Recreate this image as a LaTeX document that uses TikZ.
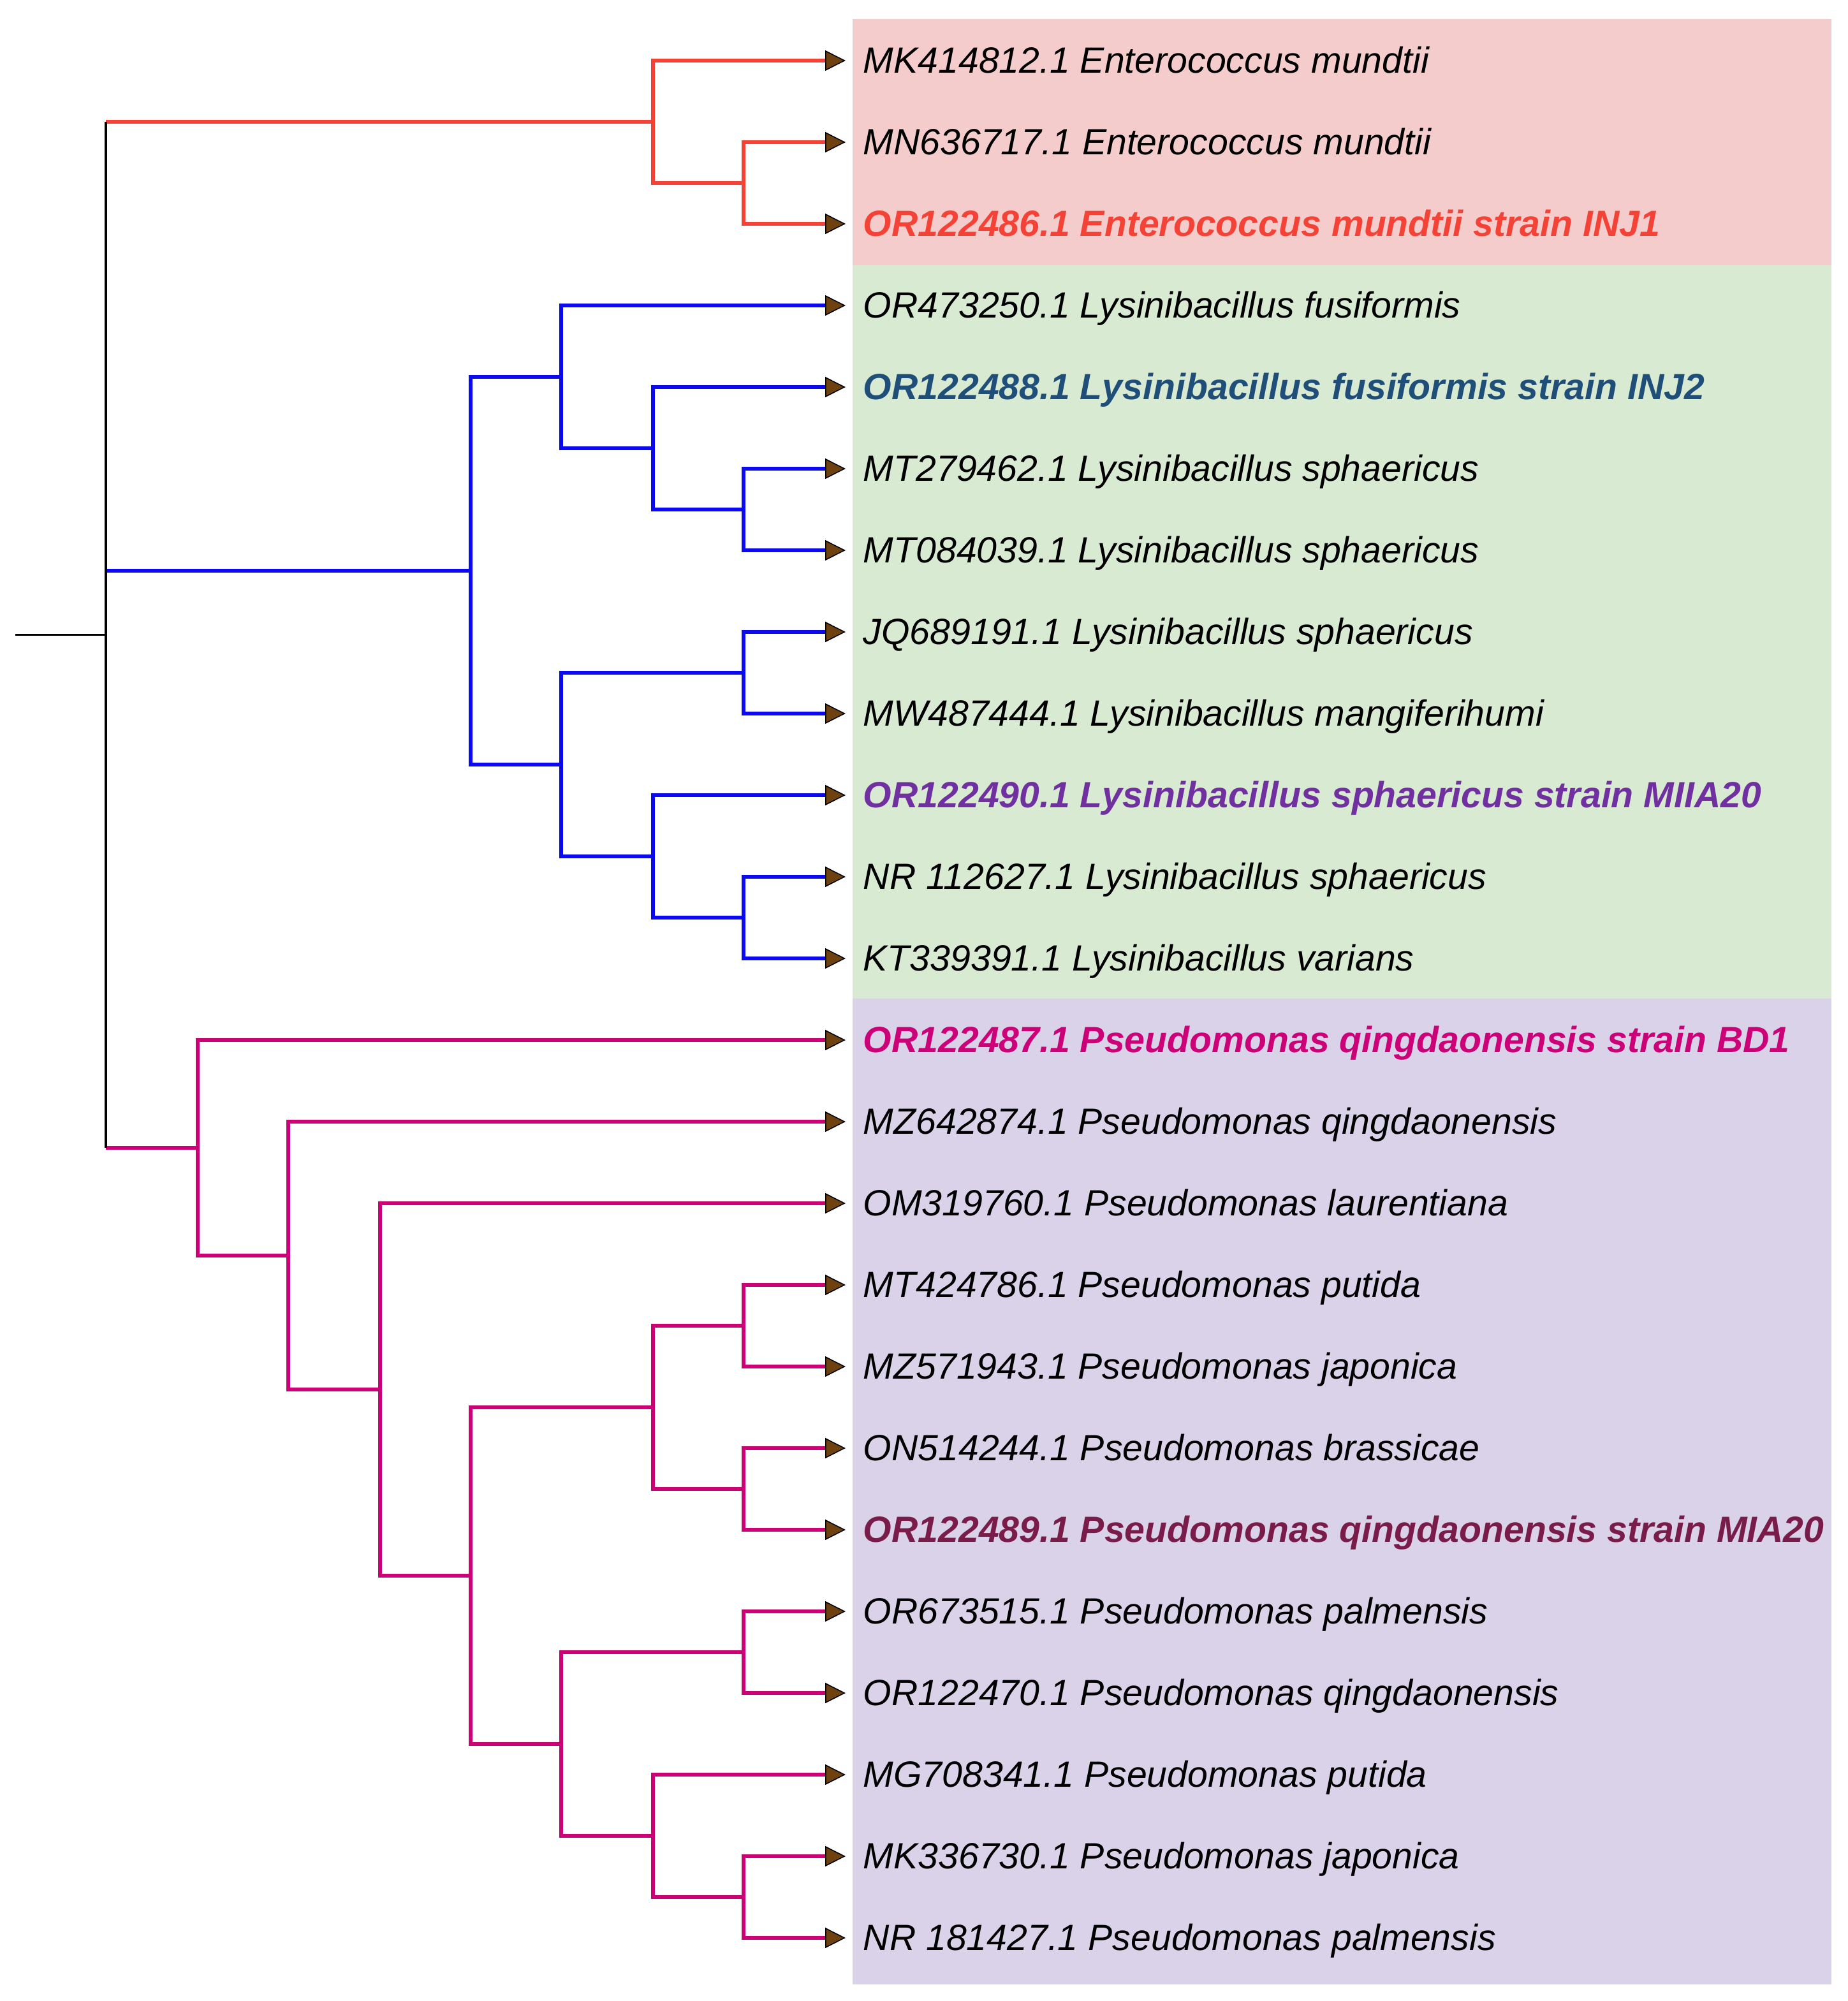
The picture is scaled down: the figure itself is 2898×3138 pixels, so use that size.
\documentclass[tikz,border=0pt]{standalone}
\usepackage{fontspec}
\setmainfont{Liberation Sans}
\usetikzlibrary{arrows.meta}
\definecolor{redbr}{HTML}{F44336}
\definecolor{bluebr}{HTML}{0A0AF0}
\definecolor{pinkbr}{HTML}{CC0077}
\definecolor{redbg}{HTML}{F4CCCC}
\definecolor{greenbg}{HTML}{D9EAD3}
\definecolor{purplebg}{HTML}{D9D2E9}
\definecolor{tipbrown}{HTML}{6E4210}
\definecolor{navytext}{HTML}{1F4E79}
\definecolor{violettext}{HTML}{7030A0}
\definecolor{maroontext}{HTML}{7A1C4A}
\tikzset{
  leafarrow/.style={-{Triangle[length=8pt,width=8pt,fill=tipbrown,color=black,line width=0.4pt]}},
  branch/.style={line width=1.5pt, line join=miter},
  lab/.style={anchor=base west, inner sep=0pt, yshift=-4.75pt,
    font=\fontsize{14.3}{17}\selectfont\itshape},
  hilab/.style={lab, font=\fontsize{14.3}{17}\selectfont\bfseries\itshape}
}
\begin{document}
\begin{tikzpicture}[x=0.25pt, y=-0.25pt]
\useasboundingbox (0,0) rectangle (2898,3138);

% shaded groups
\fill[redbg]    (1337,30)   rectangle (2872,416);
\fill[greenbg]  (1337,416)  rectangle (2872,1566);
\fill[purplebg] (1337,1566) rectangle (2872,3112);

% leaf tips
\coordinate (t1)  at (1326,95);
\coordinate (t2)  at (1326,223);
\coordinate (t3)  at (1326,351);
\coordinate (t4)  at (1326,479);
\coordinate (t5)  at (1326,607);
\coordinate (t6)  at (1326,735);
\coordinate (t7)  at (1326,863);
\coordinate (t8)  at (1326,991);
\coordinate (t9)  at (1326,1119);
\coordinate (t10) at (1326,1247);
\coordinate (t11) at (1326,1375);
\coordinate (t12) at (1326,1503);
\coordinate (t13) at (1326,1631);
\coordinate (t14) at (1326,1759);
\coordinate (t15) at (1326,1887);
\coordinate (t16) at (1326,2015);
\coordinate (t17) at (1326,2143);
\coordinate (t18) at (1326,2271);
\coordinate (t19) at (1326,2399);
\coordinate (t20) at (1326,2527);
\coordinate (t21) at (1326,2655);
\coordinate (t22) at (1326,2783);
\coordinate (t23) at (1326,2911);
\coordinate (t24) at (1326,3039);

% labels
\node[lab] (l1)  at (1353,95)   {MK414812.1 Enterococcus mundtii};
\node[lab] (l2)  at (1353,223)  {MN636717.1 Enterococcus mundtii};
\node[hilab, text=redbr] (l3) at (1353,351) {OR122486.1 Enterococcus mundtii strain INJ1};
\node[lab] (l4)  at (1353,479)  {OR473250.1 Lysinibacillus fusiformis};
\node[hilab, text=navytext] (l5) at (1353,607) {OR122488.1 Lysinibacillus fusiformis strain INJ2};
\node[lab] (l6)  at (1353,735)  {MT279462.1 Lysinibacillus sphaericus};
\node[lab] (l7)  at (1353,863)  {MT084039.1 Lysinibacillus sphaericus};
\node[lab] (l8)  at (1353,991)  {JQ689191.1 Lysinibacillus sphaericus};
\node[lab] (l9)  at (1353,1119) {MW487444.1 Lysinibacillus mangiferihumi};
\node[hilab, text=violettext] (l10) at (1353,1247) {OR122490.1 Lysinibacillus sphaericus strain MIIA20};
\node[lab] (l11) at (1353,1375) {NR 112627.1 Lysinibacillus sphaericus};
\node[lab] (l12) at (1353,1503) {KT339391.1 Lysinibacillus varians};
\node[hilab, text=pinkbr] (l13) at (1353,1631) {OR122487.1 Pseudomonas qingdaonensis strain BD1};
\node[lab] (l14) at (1353,1759) {MZ642874.1 Pseudomonas qingdaonensis};
\node[lab] (l15) at (1353,1887) {OM319760.1 Pseudomonas laurentiana};
\node[lab] (l16) at (1353,2015) {MT424786.1 Pseudomonas putida};
\node[lab] (l17) at (1353,2143) {MZ571943.1 Pseudomonas japonica};
\node[lab] (l18) at (1353,2271) {ON514244.1 Pseudomonas brassicae};
\node[hilab, text=maroontext] (l19) at (1353,2399) {OR122489.1 Pseudomonas qingdaonensis strain MIA20};
\node[lab] (l20) at (1353,2527) {OR673515.1 Pseudomonas palmensis};
\node[lab] (l21) at (1353,2655) {OR122470.1 Pseudomonas qingdaonensis};
\node[lab] (l22) at (1353,2783) {MG708341.1 Pseudomonas putida};
\node[lab] (l23) at (1353,2911) {MK336730.1 Pseudomonas japonica};
\node[lab] (l24) at (1353,3039) {NR 181427.1 Pseudomonas palmensis};

% inner nodes
\coordinate (base) at (24,995.5);
\coordinate (root) at (166,995.5);
\coordinate (r1) at (1024,191);
\coordinate (r2) at (1166,287);
\coordinate (b1) at (738,895);
\coordinate (b2) at (880,591);
\coordinate (b3) at (1024,703);
\coordinate (b4) at (1166,799);
\coordinate (b5) at (880,1199);
\coordinate (b6) at (1166,1055);
\coordinate (b7) at (1024,1343);
\coordinate (b8) at (1166,1439);
\coordinate (p3) at (310,1800);
\coordinate (p4) at (452,1969);
\coordinate (p5) at (596,2179);
\coordinate (p6) at (738,2471);
\coordinate (p7) at (1024,2207);
\coordinate (p8) at (1166,2079);
\coordinate (p9) at (1166,2335);
\coordinate (p10) at (880,2735);
\coordinate (p11) at (1166,2591);
\coordinate (p12) at (1024,2879);
\coordinate (p13) at (1166,2975);

% Enterococcus
\draw[branch, redbr] (root |- r1) -- (r1);
\draw[branch, redbr, leafarrow] (r1) |- (t1);
\draw[branch, redbr] (r1) |- (r2);
\draw[branch, redbr, leafarrow] (r2) |- (t2);
\draw[branch, redbr, leafarrow] (r2) |- (t3);

% Lysinibacillus
\draw[branch, bluebr] (root |- b1) -- (b1);
\draw[branch, bluebr] (b1) |- (b2);
\draw[branch, bluebr] (b1) |- (b5);
\draw[branch, bluebr, leafarrow] (b2) |- (t4);
\draw[branch, bluebr] (b2) |- (b3);
\draw[branch, bluebr, leafarrow] (b3) |- (t5);
\draw[branch, bluebr] (b3) |- (b4);
\draw[branch, bluebr, leafarrow] (b4) |- (t6);
\draw[branch, bluebr, leafarrow] (b4) |- (t7);
\draw[branch, bluebr] (b5) |- (b6);
\draw[branch, bluebr] (b5) |- (b7);
\draw[branch, bluebr, leafarrow] (b6) |- (t8);
\draw[branch, bluebr, leafarrow] (b6) |- (t9);
\draw[branch, bluebr, leafarrow] (b7) |- (t10);
\draw[branch, bluebr] (b7) |- (b8);
\draw[branch, bluebr, leafarrow] (b8) |- (t11);
\draw[branch, bluebr, leafarrow] (b8) |- (t12);

% Pseudomonas
\draw[branch, pinkbr] (root |- p3) -- (p3);
\draw[branch, pinkbr, leafarrow] (p3) |- (t13);
\draw[branch, pinkbr] (p3) |- (p4);
\draw[branch, pinkbr, leafarrow] (p4) |- (t14);
\draw[branch, pinkbr] (p4) |- (p5);
\draw[branch, pinkbr, leafarrow] (p5) |- (t15);
\draw[branch, pinkbr] (p5) |- (p6);
\draw[branch, pinkbr] (p6) |- (p7);
\draw[branch, pinkbr] (p6) |- (p10);
\draw[branch, pinkbr] (p7) |- (p8);
\draw[branch, pinkbr] (p7) |- (p9);
\draw[branch, pinkbr, leafarrow] (p8) |- (t16);
\draw[branch, pinkbr, leafarrow] (p8) |- (t17);
\draw[branch, pinkbr, leafarrow] (p9) |- (t18);
\draw[branch, pinkbr, leafarrow] (p9) |- (t19);
\draw[branch, pinkbr] (p10) |- (p11);
\draw[branch, pinkbr] (p10) |- (p12);
\draw[branch, pinkbr, leafarrow] (p11) |- (t20);
\draw[branch, pinkbr, leafarrow] (p11) |- (t21);
\draw[branch, pinkbr, leafarrow] (p12) |- (t22);
\draw[branch, pinkbr] (p12) |- (p13);
\draw[branch, pinkbr, leafarrow] (p13) |- (t23);
\draw[branch, pinkbr, leafarrow] (p13) |- (t24);

% root
\draw[line width=0.6pt] (base) -- (root);
\draw[line width=0.8pt] (root |- r1) -- (root |- p3);

\end{tikzpicture}
\end{document}
